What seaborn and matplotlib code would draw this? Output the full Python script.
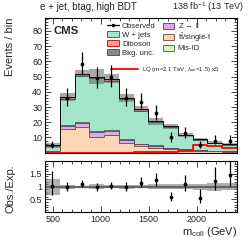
import numpy as np
import pandas as pd
import matplotlib
matplotlib.use("Agg")
import matplotlib.pyplot as plt
import seaborn as sns
from matplotlib.patches import Patch
from matplotlib.lines import Line2D
from matplotlib.ticker import MultipleLocator

# ---------------- data ----------------
bin_lo, bin_hi, n_bins = 420, 2420, 13
observed = [5, 36, 58, 49, 50, 36, 33, 26, 10, 13, 5, 8, 8]
ttbar    = [0.8, 15.6, 16.6, 10.5, 11.6, 6.7, 4.5, 3.4, 2.3, 1.8, 1.3, 0.9, 0.6]
zll      = [0.3, 2.1, 3.0, 3.3, 2.8, 1.6, 1.1, 1.1, 0.8, 0.5, 0.4, 0.4, 0.3]
misid    = [0.3, 0.5, 0.6, 0.5, 0.5, 0.4, 0.3, 0.3, 0.2, 0.2, 0.2, 0.1, 0.1]
wjets    = [3.2, 17.3, 30.5, 34.5, 32.4, 26.4, 21.8, 15.1, 13.5, 8.9, 6.5, 4.8, 4.3]
diboson  = [0.2, 1.0, 1.3, 1.2, 1.2, 0.9, 0.8, 0.6, 0.5, 0.4, 0.3, 0.3, 0.2]
bkg_unc  = [1.5, 2.8, 2.2, 4.9, 3.0, 2.8, 2.0, 2.0, 1.5, 1.3, 1.0, 1.0, 0.8]
lq_signal = [0, 0, 0, 0, 0, 0.1, 0.3, 0.4, 0.6, 1.3, 4.8, 4.2, 3.2]
y_ticks_main = [10, 20, 30, 40, 50, 60, 70, 80]
x_ticks = [500, 1000, 1500, 2000]
ratio_ticks = [0.5, 1, 1.5]

edges = [float(e) for e in np.linspace(bin_lo, bin_hi, n_bins + 1)]
centers = 0.5 * (np.array(edges[:-1]) + np.array(edges[1:]))
width = edges[1] - edges[0]

layers = [  # bottom -> top
    ("tt", ttbar, "#ffd3b6", "#6b4a3a"),
    ("zll", zll, "#d8aee0", "#5a3a60"),
    ("misid", misid, "#ddf2c4", "#4a5a3a"),
    ("wjets", wjets, "#a4e6cc", "#2f5a4a"),
    ("diboson", diboson, "#ff9aa0", "#c00000"),
]
cum = np.cumsum(np.array([l[1] for l in layers], dtype=float), axis=0)
total = cum[-1]
unc = np.array(bkg_unc)
obs = np.array(observed, dtype=float)

df = pd.DataFrame({"m": centers})
for i, l in enumerate(layers):
    df["cum_" + l[0]] = cum[i]
df["total"] = total
df["lq"] = lq_signal

# ---------------- style ----------------
sns.set_theme(style="ticks")
plt.rcParams["font.family"] = ["Liberation Sans", "DejaVu Sans"]
plt.rcParams["mathtext.fontset"] = "custom"
plt.rcParams["mathtext.rm"] = "Liberation Sans"
plt.rcParams["mathtext.it"] = "Liberation Sans:italic"
plt.rcParams["mathtext.bf"] = "Liberation Sans:bold"

fig = plt.figure(figsize=(2.49, 2.42), dpi=100)
ax = fig.add_axes([45 / 249, 1 - 152.7 / 242, 192 / 249, (152.7 - 18) / 242])
rax = fig.add_axes([45 / 249, 1 - 212.3 / 242, 192 / 249, (212.3 - 161) / 242])

# stacked histograms: draw cumulative from the top down
for i in range(len(layers) - 1, -1, -1):
    name, _, fc, ec = layers[i]
    sns.histplot(data=df, x="m", weights="cum_" + name, bins=edges, element="step",
                 fill=True, color=fc, edgecolor=ec, alpha=1.0, linewidth=0.6, ax=ax)

# uncertainty band
ax.bar(centers, 2 * unc, bottom=total - unc, width=width, color="#555555",
       alpha=0.5, linewidth=0)
# total line
sns.histplot(data=df, x="m", weights="total", bins=edges, element="step", fill=False,
             color="black", linewidth=0.6, ax=ax)
# signal
sns.histplot(data=df, x="m", weights="lq", bins=edges, element="step", fill=False,
             color="#ff0000", linewidth=1.3, ax=ax)

# data
err_up = np.sqrt(obs + 0.25) + 0.5
err_dn = np.sqrt(obs + 0.25) - 0.5
ax.errorbar(centers, obs, yerr=[err_dn, err_up], fmt="o", ms=1.7, color="black",
            elinewidth=0.9, capsize=0, zorder=10)

ax.set_xlim(bin_lo, bin_hi)
ax.set_ylim(0, 88.5)
ax.set_yticks(y_ticks_main)
ax.yaxis.set_minor_locator(MultipleLocator(2))
ax.xaxis.set_minor_locator(MultipleLocator(100))
ax.set_xticks(x_ticks)
ax.set_xticklabels([])
ax.set_xlabel("")
ax.set_ylabel("")

for a in (ax, rax):
    a.tick_params(which="both", direction="in", top=True, right=True,
                  labelsize=6.5, width=0.6, pad=2)
    a.tick_params(which="major", length=4)
    a.tick_params(which="minor", length=2)
    for s in a.spines.values():
        s.set_linewidth(0.8)
        s.set_color("black")

# ratio panel
ratio = obs / total
rel = unc / total
rax.bar(centers, 2 * rel, bottom=1 - rel, width=width, color="#888888", alpha=0.65,
        linewidth=0)
rax.axhline(1, color="#666666", lw=1.6, zorder=1)
rax.errorbar(centers, ratio, yerr=[err_dn / total, err_up / total], fmt="o", ms=1.7,
             color="black", elinewidth=0.9, capsize=0, zorder=10)
rax.set_xlim(bin_lo, bin_hi)
rax.set_ylim(0, 2)
rax.set_yticks(ratio_ticks)
rax.set_yticklabels(["0.5", "1", "1.5"])
rax.yaxis.set_minor_locator(MultipleLocator(0.1))
rax.set_xticks(x_ticks)
rax.xaxis.set_minor_locator(MultipleLocator(100))
rax.set_ylabel("")

# legend
handles = [
    Line2D([], [], color="black", marker="o", ms=1.5, lw=0.9),
    Patch(facecolor="#a4e6cc", edgecolor="#2f5a4a", lw=0.6),
    Patch(facecolor="#ff9aa0", edgecolor="#c00000", lw=0.6),
    Patch(facecolor="#888888", edgecolor="#444444", lw=0.6),
    Patch(facecolor="#d8aee0", edgecolor="#5a3a60", lw=0.6),
    Patch(facecolor="#ffd3b6", edgecolor="#6b4a3a", lw=0.6),
    Patch(facecolor="#ddf2c4", edgecolor="#4a5a3a", lw=0.6),
]
labels = ["Observed", "W + jets", "Diboson", "Bkg. unc.",
          r"Z$\rightarrow$ ll", r"$\mathrm{t\bar{t}}$/single-t", "Mis-ID"]
leg = ax.legend(handles, labels, ncol=2, loc="upper left",
                bbox_to_anchor=(0.30, 1.01), frameon=False, fontsize=5.6,
                handlelength=1.5, handleheight=0.85, handletextpad=0.4,
                columnspacing=0.9, labelspacing=0.12, borderaxespad=0.2)
ax.add_artist(leg)
leg2 = ax.legend([Line2D([], [], color="#ff0000", lw=1.3)],
                 [r"LQ (m=2.1 TeV, $\lambda_{\mathrm{un}}$=1.5) x5"],
                 loc="upper left", bbox_to_anchor=(0.315, 0.69), frameon=False,
                 fontsize=4.4, handlelength=4.5, handletextpad=0.6)

ax.text(0.045, 0.905, "CMS", transform=ax.transAxes, fontsize=8.2,
        fontweight="bold", ha="left", va="center")
fig.text(40 / 249, 1 - 7.5 / 242, "e + jet, btag, high BDT", fontsize=7,
         ha="left", va="center")
fig.text(244 / 249, 1 - 7.5 / 242, r"138 fb$^{-1}$ (13 TeV)", fontsize=6.6,
         ha="right", va="center")
fig.text(10 / 249, 1 - 18 / 242, "Events / bin", rotation=90, fontsize=8,
         ha="center", va="top")
fig.text(10 / 249, 1 - 164 / 242, "Obs./Exp.", rotation=90, fontsize=8,
         ha="center", va="top")
fig.text(237 / 249, 1 - 232 / 242, r"m$_{\mathrm{coll}}$ (GeV)", fontsize=8,
         ha="right", va="center")

fig.savefig("out.png", dpi=100)
